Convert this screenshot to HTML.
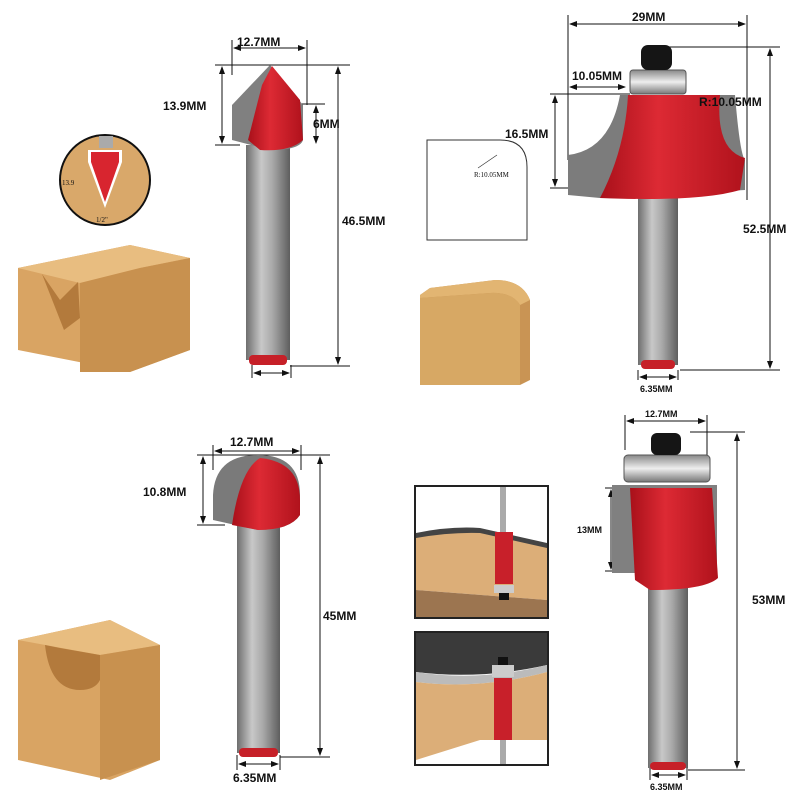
<!DOCTYPE html><html><head><style>body{margin:0;background:#fff}svg{display:block}text{font-family:"Liberation Sans",sans-serif;font-weight:bold;fill:#111}</style></head><body>
<svg width="800" height="800" viewBox="0 0 800 800" xmlns="http://www.w3.org/2000/svg">
<defs>
<linearGradient id="sh" x1="0" x2="1"><stop offset="0" stop-color="#6e6e6e"/><stop offset=".35" stop-color="#c8c8c8"/><stop offset=".6" stop-color="#a9a9a9"/><stop offset="1" stop-color="#5e5e5e"/></linearGradient>
<linearGradient id="rd" x1="0" x2="1"><stop offset="0" stop-color="#a8101a"/><stop offset=".4" stop-color="#dd2a34"/><stop offset="1" stop-color="#b0121c"/></linearGradient>
<linearGradient id="wd" x1="0" y1="0" x2="0" y2="1"><stop offset="0" stop-color="#e6b877"/><stop offset="1" stop-color="#c9904f"/></linearGradient>
<linearGradient id="br" x1="0" y1="0" x2="0" y2="1"><stop offset="0" stop-color="#888"/><stop offset=".5" stop-color="#eee"/><stop offset="1" stop-color="#777"/></linearGradient>
<marker id="a" markerWidth="8" markerHeight="8" refX="7" refY="4" orient="auto-start-reverse"><path d="M0,1 L8,4 L0,7z" fill="#111"/></marker>
</defs>
<g stroke="#111" stroke-width="1" fill="none">
<line x1="232" y1="40" x2="232" y2="75"/><line x1="307" y1="40" x2="307" y2="105"/>
<line x1="234" y1="48" x2="305" y2="48" marker-start="url(#a)" marker-end="url(#a)"/>
<line x1="215" y1="65" x2="350" y2="65"/><line x1="222" y1="67" x2="222" y2="143" marker-start="url(#a)" marker-end="url(#a)"/>
<line x1="215" y1="145" x2="240" y2="145"/>
<line x1="300" y1="104" x2="325" y2="104"/><line x1="316" y1="106" x2="316" y2="143" marker-start="url(#a)" marker-end="url(#a)"/>
<line x1="290" y1="366" x2="350" y2="366"/><line x1="338" y1="67" x2="338" y2="364" marker-start="url(#a)" marker-end="url(#a)"/>
<line x1="252" y1="365" x2="252" y2="378"/><line x1="291" y1="365" x2="291" y2="378"/>
<line x1="254" y1="373" x2="289" y2="373" marker-start="url(#a)" marker-end="url(#a)"/>
<line x1="568" y1="15" x2="568" y2="160"/><line x1="747" y1="15" x2="747" y2="200"/>
<line x1="570" y1="24" x2="745" y2="24" marker-start="url(#a)" marker-end="url(#a)"/>
<line x1="570" y1="87" x2="625" y2="87" marker-start="url(#a)" marker-end="url(#a)"/>
<line x1="550" y1="94" x2="630" y2="94"/><line x1="555" y1="96" x2="555" y2="186" marker-start="url(#a)" marker-end="url(#a)"/>
<line x1="550" y1="188" x2="575" y2="188"/>
<line x1="655" y1="47" x2="780" y2="47"/><line x1="770" y1="49" x2="770" y2="368" marker-start="url(#a)" marker-end="url(#a)"/>
<line x1="680" y1="370" x2="780" y2="370"/>
<line x1="712" y1="110" x2="704" y2="130" marker-end="url(#a)"/>
<line x1="638" y1="370" x2="638" y2="380"/><line x1="678" y1="370" x2="678" y2="380"/>
<line x1="640" y1="377" x2="676" y2="377" marker-start="url(#a)" marker-end="url(#a)"/>
<line x1="213" y1="445" x2="213" y2="470"/><line x1="301" y1="445" x2="301" y2="470"/>
<line x1="215" y1="451" x2="299" y2="451" marker-start="url(#a)" marker-end="url(#a)"/>
<line x1="197" y1="455" x2="330" y2="455"/><line x1="203" y1="457" x2="203" y2="523" marker-start="url(#a)" marker-end="url(#a)"/>
<line x1="197" y1="525" x2="225" y2="525"/>
<line x1="280" y1="757" x2="330" y2="757"/><line x1="320" y1="457" x2="320" y2="755" marker-start="url(#a)" marker-end="url(#a)"/>
<line x1="237" y1="755" x2="237" y2="770"/><line x1="280" y1="755" x2="280" y2="770"/>
<line x1="239" y1="764" x2="278" y2="764" marker-start="url(#a)" marker-end="url(#a)"/>
<line x1="625" y1="415" x2="625" y2="450"/><line x1="707" y1="415" x2="707" y2="455"/>
<line x1="627" y1="421" x2="705" y2="421" marker-start="url(#a)" marker-end="url(#a)"/>
<line x1="605" y1="488" x2="625" y2="488"/><line x1="611" y1="490" x2="611" y2="569" marker-start="url(#a)" marker-end="url(#a)"/>
<line x1="605" y1="571" x2="625" y2="571"/>
<line x1="690" y1="432" x2="745" y2="432"/><line x1="737" y1="434" x2="737" y2="768" marker-start="url(#a)" marker-end="url(#a)"/>
<line x1="688" y1="770" x2="745" y2="770"/>
<line x1="650" y1="768" x2="650" y2="780"/><line x1="687" y1="768" x2="687" y2="780"/>
<line x1="652" y1="775" x2="685" y2="775" marker-start="url(#a)" marker-end="url(#a)"/>
</g>
<rect x="246" y="145" width="44" height="215" fill="url(#sh)"/>
<rect x="249" y="355" width="38" height="10" rx="4" fill="#c62028"/>
<path d="M232,105 L270,65 L303,105 L303,140 Q300,150 270,150 L232,140z" fill="#808080"/>
<path d="M248,140 L262,85 L272,66 L300,100 L303,140 Q290,152 260,150z" fill="url(#rd)"/>
<rect x="638" y="190" width="40" height="175" fill="url(#sh)"/>
<rect x="641" y="360" width="34" height="9" rx="4" fill="#c62028"/>
<path d="M568,155 Q610,150 620,95 L735,95 Q740,155 745,160 L745,190 L600,198 L568,195z" fill="#7c7c7c"/>
<path d="M600,198 Q625,150 628,95 L720,95 Q715,150 745,158 L740,190 Q700,202 600,198z" fill="url(#rd)"/>
<rect x="630" y="70" width="56" height="24" rx="3" fill="url(#br)" stroke="#555"/>
<rect x="641" y="45" width="31" height="25" rx="7" fill="#151515"/>
<path d="M427,140 L500,140 Q527,140 527,167 L527,240 L427,240z" fill="none" stroke="#333"/>
<line x1="478" y1="168" x2="497" y2="155" stroke="#333" stroke-width=".7"/>
<text x="474" y="177" font-size="7" style="font-weight:normal;font-family:'Liberation Serif',serif">R:10.05MM</text>
<!-- wood TR -->
<path d="M420,295 L430,288 L495,280 Q522,280 530,300 L530,380 L520,385 L420,385z" fill="#c99454"/>
<path d="M420,295 L430,288 L495,280 Q522,280 530,300 L520,305 Q512,292 490,293 L420,298z" fill="#e2b572"/>
<path d="M420,298 L490,293 Q512,292 520,305 L520,385 L420,385z" fill="#d7a864"/>
<rect x="417" y="486" width="0" height="0"/>
<rect x="237" y="525" width="43" height="228" fill="url(#sh)"/>
<rect x="239" y="748" width="39" height="9" rx="4" fill="#c62028"/>
<path d="M213,495 Q215,455 258,455 Q300,455 300,495 L300,515 Q290,530 258,530 L213,520z" fill="#7a7a7a"/>
<path d="M232,525 Q240,470 260,458 Q300,462 300,500 L300,515 Q290,530 258,530z" fill="url(#rd)"/>
<rect x="648" y="585" width="40" height="183" fill="url(#sh)"/>
<rect x="650" y="762" width="36" height="8" rx="4" fill="#c62028"/>
<rect x="612" y="485" width="105" height="88" fill="#808080"/>
<path d="M630,488 L712,488 L718,578 Q705,590 650,590 L635,580z" fill="url(#rd)"/>
<rect x="624" y="455" width="86" height="27" rx="4" fill="url(#br)" stroke="#555"/>
<rect x="651" y="433" width="30" height="22" rx="6" fill="#151515"/>
<rect x="415" y="486" width="133" height="132" fill="#fff" stroke="#222" stroke-width="2"/>
<path d="M416,535 Q450,528 480,530 L547,545 L547,600 L416,590z" fill="#dcae78"/>
<path d="M416,590 L547,600 L547,617 L416,617z" fill="#9c7550"/>
<path d="M416,533 Q450,526 480,528 L547,543 L547,548 L480,533 Q450,532 416,538z" fill="#444"/>
<rect x="500" y="487" width="6" height="45" fill="#aaa"/><rect x="495" y="532" width="18" height="52" fill="#c8202a"/>
<rect x="494" y="585" width="20" height="8" fill="#ccc"/><rect x="499" y="593" width="10" height="7" fill="#111"/>
<rect x="415" y="632" width="133" height="133" fill="#fff" stroke="#222" stroke-width="2"/>
<path d="M416,633 L547,633 L547,665 Q480,680 416,672z" fill="#3a3a3a"/>
<path d="M416,672 Q480,682 547,665 L547,672 Q480,690 416,682z" fill="#bbb"/>
<path d="M416,682 Q480,690 547,672 L547,740 L480,740 L416,760z" fill="#dcae78"/>
<rect x="498" y="657" width="10" height="8" fill="#111"/><rect x="492" y="665" width="22" height="12" fill="#ccc"/>
<rect x="494" y="678" width="18" height="62" fill="#c8202a"/><rect x="500" y="740" width="6" height="24" fill="#aaa"/>
<circle cx="105" cy="180" r="45" fill="#d9a86a" stroke="#111" stroke-width="2"/>
<rect x="99" y="136" width="14" height="12" fill="#aaa"/>
<path d="M88,162 L88,150 L122,150 L122,162 L105,208z" fill="#fff"/>
<path d="M91,162 L91,152 L119,152 L119,162 L105,202z" fill="#d8252f"/>
<text x="62" y="185" font-size="7" style="font-weight:normal;font-family:'Liberation Serif',serif">13.9</text>
<text x="96" y="222" font-size="7" style="font-weight:normal;font-family:'Liberation Serif',serif">1/2"</text>
<!-- wood TL: V groove block -->
<path d="M18,268 L130,245 L190,258 L190,350 L130,372 L18,350z" fill="#d9a463"/>
<path d="M18,268 L80,283 L140,268 L190,258 L130,245z" fill="#e8bd80"/>
<path d="M80,283 L80,372 L130,372 L190,350 L190,258 L140,268z" fill="#c8914f"/>
<path d="M45,275 L58,278 L68,310 L80,283 L82,283 L82,372 L80,372z" fill="none"/>
<path d="M42,274 L60,300 L78,282 L80,318 L64,330z" fill="#b37a3c"/>
<!-- wood BL: U groove block -->
<path d="M18,640 L110,620 L160,645 L160,760 L110,780 L18,760z" fill="#d9a463"/>
<path d="M18,640 L100,655 L160,645 L110,620z" fill="#e8bd80"/>
<path d="M100,655 L100,780 L160,760 L160,645z" fill="#c8914f"/>
<path d="M45,645 Q50,690 80,690 Q95,690 100,680 L100,655 L60,648z" fill="#b37a3c"/>
<text x="237" y="46" font-size="12">12.7MM</text>
<text x="163" y="110" font-size="12">13.9MM</text>
<text x="313" y="128" font-size="12">6MM</text>
<text x="342" y="225" font-size="12">46.5MM</text>
<text x="632" y="21" font-size="12">29MM</text>
<text x="572" y="80" font-size="12">10.05MM</text>
<text x="699" y="106" font-size="12">R:10.05MM</text>
<text x="505" y="138" font-size="12">16.5MM</text>
<text x="743" y="233" font-size="12">52.5MM</text>
<text x="640" y="392" font-size="9">6.35MM</text>
<text x="230" y="446" font-size="12">12.7MM</text>
<text x="143" y="496" font-size="12">10.8MM</text>
<text x="323" y="620" font-size="12">45MM</text>
<text x="233" y="782" font-size="12">6.35MM</text>
<text x="645" y="417" font-size="9">12.7MM</text>
<text x="577" y="533" font-size="9">13MM</text>
<text x="752" y="604" font-size="12">53MM</text>
<text x="650" y="790" font-size="9">6.35MM</text>
</svg></body></html>
